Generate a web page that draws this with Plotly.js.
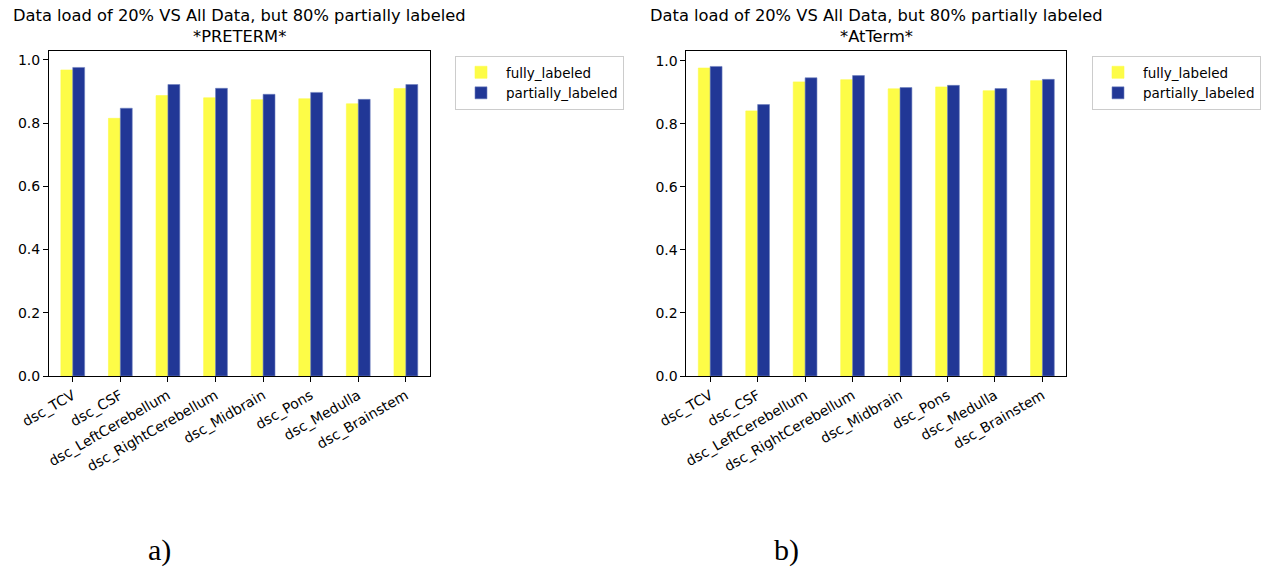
<!DOCTYPE html>
<html>
<head>
<meta charset="utf-8">
<script src="https://cdn.plot.ly/plotly-3.0.1.min.js"></script>
<style>html,body{margin:0;padding:0;background:#fff;}#chart{width:1261px;height:568px;}</style>
</head>
<body>
<div id="chart"></div>
<script>
const categories = ["dsc_TCV","dsc_CSF","dsc_LeftCerebellum","dsc_RightCerebellum","dsc_Midbrain","dsc_Pons","dsc_Medulla","dsc_Brainstem"];
const pretermFully     = [0.968, 0.815, 0.887, 0.880, 0.874, 0.877, 0.861, 0.909];
const pretermPartially = [0.976, 0.847, 0.922, 0.910, 0.891, 0.897, 0.875, 0.922];
const atTermFully      = [0.977, 0.841, 0.933, 0.940, 0.911, 0.917, 0.905, 0.937];
const atTermPartially  = [0.982, 0.861, 0.946, 0.953, 0.915, 0.922, 0.912, 0.941];
const seriesNames = ["fully_labeled","partially_labeled"];
const titleMain = "Data load of 20% VS All Data, but 80% partially labeled";
const subTitles = ["*PRETERM*","*AtTerm*"];
const panelLabels = ["a)","b)"];

const W = 1261, H = 568;
const YELLOW = "#fdfc47", BLUE = "#213796";
const fx = p => p / W;
const fy = p => 1 - p / H;
const idx = categories.map((c, i) => i);

function bar(name, y, color, xa, ya, legend, offset) {
  return {
    type: "bar", name: name, x: idx.map(i => i + offset), y: y,
    width: 0.25, xaxis: xa, yaxis: ya, legend: legend,
    marker: {color: color, line: {color: color === BLUE ? "#6f82c0" : color, width: 0.6}},
    hoverinfo: "skip"
  };
}

const data = [
  bar(seriesNames[0], pretermFully, YELLOW, "x", "y", "legend", -0.125),
  bar(seriesNames[1], pretermPartially, BLUE, "x", "y", "legend", 0.125),
  bar(seriesNames[0], atTermFully, YELLOW, "x2", "y2", "legend2", -0.125),
  bar(seriesNames[1], atTermPartially, BLUE, "x2", "y2", "legend2", 0.125)
];

const tickFont = {family: "DejaVu Sans", size: 14, color: "#000"};
function xax(d0, d1, anchor) {
  return {
    domain: [fx(d0), fx(d1)], anchor: anchor, range: [-0.5, 7.5],
    tickmode: "array", tickvals: idx, ticktext: categories, tickangle: -30,
    ticks: "outside", ticklen: 5, tickcolor: "#000", tickwidth: 1,
    showline: true, linecolor: "#000", linewidth: 1, mirror: true,
    showgrid: false, zeroline: false, tickfont: tickFont, fixedrange: true
  };
}
function yax(anchor, top) {
  return {
    domain: [fy(376), fy(51)], anchor: anchor, range: [0, top],
    tickvals: [0, 0.2, 0.4, 0.6, 0.8, 1.0], tickformat: ".1f",
    ticks: "outside", ticklen: 5, tickcolor: "#000", tickwidth: 1,
    showline: true, linecolor: "#000", linewidth: 1, mirror: true,
    showgrid: false, zeroline: false, tickfont: tickFont, fixedrange: true
  };
}
function legendCfg(x0) {
  return {
    x: fx(x0), y: fy(56), xanchor: "left", yanchor: "top",
    xref: "paper", yref: "paper",
    bordercolor: "#cccccc", borderwidth: 1, bgcolor: "#fff",
    font: {family: "DejaVu Sans", size: 13.5, color: "#000"},
    tracegroupgap: 0, itemwidth: 40
  };
}

const titleFont = {family: "DejaVu Sans", size: 16.3, color: "#000"};
const annotations = [];
[[239.5, 0], [877, 1]].forEach(([cx, k]) => {
  annotations.push({xref: "paper", yref: "paper", x: fx(cx), y: fy(16), xanchor: "center", yanchor: "middle",
    text: titleMain, showarrow: false, font: titleFont});
  annotations.push({xref: "paper", yref: "paper", x: fx(cx), y: fy(37), xanchor: "center", yanchor: "middle",
    text: subTitles[k], showarrow: false, font: titleFont});
});
annotations.push({xref: "paper", yref: "paper", x: fx(160), y: fy(550), xanchor: "center", yanchor: "middle",
  text: panelLabels[0], showarrow: false, font: {family: "Liberation Serif", size: 30, color: "#000"}});
annotations.push({xref: "paper", yref: "paper", x: fx(787), y: fy(550), xanchor: "center", yanchor: "middle",
  text: panelLabels[1], showarrow: false, font: {family: "Liberation Serif", size: 30, color: "#000"}});

const layout = {
  width: W, height: H,
  margin: {l: 0, r: 0, t: 0, b: 0},
  paper_bgcolor: "#fff", plot_bgcolor: "#fff",
  barmode: "overlay",
  showlegend: true,
  xaxis: xax(49, 430, "y"),
  yaxis: yax("x", 1.028),
  xaxis2: xax(687, 1067, "y2"),
  yaxis2: yax("x2", 1.031),
  legend: legendCfg(455),
  legend2: legendCfg(1093),
  annotations: annotations
};

Plotly.newPlot("chart", data, layout, {staticPlot: true, displayModeBar: false});
</script>
</body>
</html>
